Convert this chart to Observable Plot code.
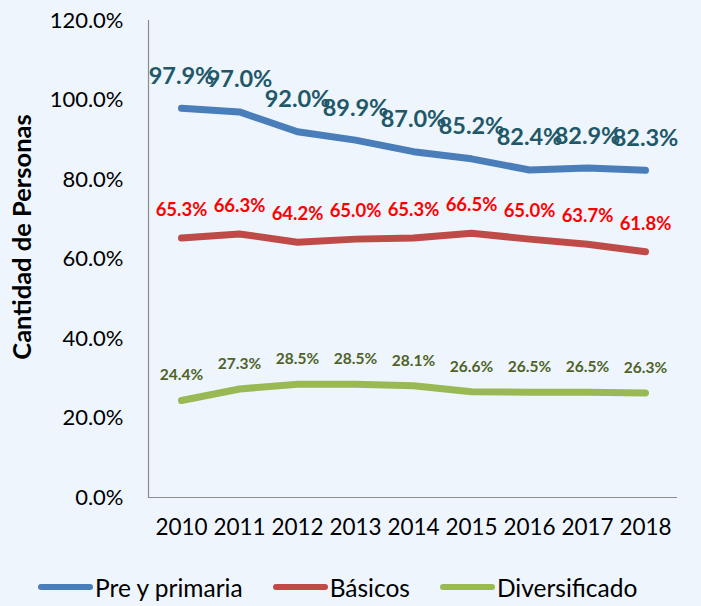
<!DOCTYPE html>
<html>
<head>
<meta charset="utf-8">
<script src="https://cdn.jsdelivr.net/npm/d3@7"></script>
<script src="https://cdn.jsdelivr.net/npm/@observablehq/plot@0.6"></script>
<style>
  html, body { margin: 0; padding: 0; background: #eef5fd; }
  body { width: 701px; height: 606px; overflow: hidden; font-family: Lato, "Open Sans", sans-serif; }
  #chart svg { display: block; background: transparent; }
  #legend { display: flex; align-items: center; height: 46px; padding-top: 8px; padding-left: 38px; font-size: 24.5px; color: #000; box-sizing: border-box; }
  .item { display: flex; align-items: center; margin-right: 30px; }
  .sw { width: 55px; height: 6px; border-radius: 3px; margin-right: 2px; }
</style>
</head>
<body>
<div id="chart"></div>
<div id="legend"></div>
<script>
const years = ["2010","2011","2012","2013","2014","2015","2016","2017","2018"];
const preYPrimaria = [97.9, 97.0, 92.0, 89.9, 87.0, 85.2, 82.4, 82.9, 82.3];
const basicos = [65.3, 66.3, 64.2, 65.0, 65.3, 66.5, 65.0, 63.7, 61.8];
const diversificado = [24.4, 27.3, 28.5, 28.5, 28.1, 26.6, 26.5, 26.5, 26.3];
const seriesNames = ["Pre y primaria", "Básicos", "Diversificado"];
const yTicks = [0, 20, 40, 60, 80, 100, 120];

const lineColors = ["#4a7ebb", "#be4b48", "#98b954"];
const labelColors = ["#215868", "#ff0000", "#4f6228"];
const labelSizes = [23.5, 18.5, 15.5];
const labelDy = [-32, -28, -25];

const allSeries = [preYPrimaria, basicos, diversificado];
const data = allSeries.flatMap((vals, i) => vals.map((v, j) => ({year: years[j], value: v, series: seriesNames[i], idx: i})));

const marks = [
  Plot.ruleY([0], {stroke: "#8c8c8c", strokeWidth: 1.2}),
  Plot.frame({anchor: "left", stroke: "#8c8c8c", strokeWidth: 1.2}),
  Plot.axisY({ticks: yTicks, tickSize: 0, tickPadding: 25, tickFormat: d => d.toFixed(1) + "%", fontSize: 22, label: null}),
  Plot.axisX({tickSize: 0, tickPadding: 22, fontSize: 22.5, label: null}),
  Plot.text(["Cantidad de Personas"], {frameAnchor: "left", textAnchor: "middle", dx: -126, dy: -22, rotate: -90, fontSize: 25.5, fontWeight: "bold", fill: "#000"})
];
seriesNames.forEach((name, i) => {
  const d = data.filter(r => r.idx === i);
  marks.push(Plot.line(d, {x: "year", y: "value", stroke: lineColors[i], strokeWidth: 7, strokeLinecap: "round", strokeLinejoin: "round"}));
});
seriesNames.forEach((name, i) => {
  const d = data.filter(r => r.idx === i);
  marks.push(Plot.text(d, {x: "year", y: "value", text: r => r.value.toFixed(1) + "%", dy: labelDy[i], fill: labelColors[i], fontSize: labelSizes[i], fontWeight: "bold"}));
});

const chart = Plot.plot({
  width: 701,
  height: 560,
  marginLeft: 148,
  marginRight: 24,
  marginTop: 20,
  marginBottom: 63,
  style: {fontFamily: "Lato, 'Open Sans', sans-serif", color: "#000", background: "transparent"},
  x: {type: "point", domain: years, padding: 0.5},
  y: {domain: [0, 120]},
  marks
});
document.getElementById("chart").append(chart);

const legend = document.getElementById("legend");
seriesNames.forEach((name, i) => {
  const item = document.createElement("div");
  item.className = "item";
  const sw = document.createElement("div");
  sw.className = "sw";
  sw.style.background = lineColors[i];
  const t = document.createElement("span");
  t.textContent = name;
  item.append(sw, t);
  legend.append(item);
});
</script>
</body>
</html>
